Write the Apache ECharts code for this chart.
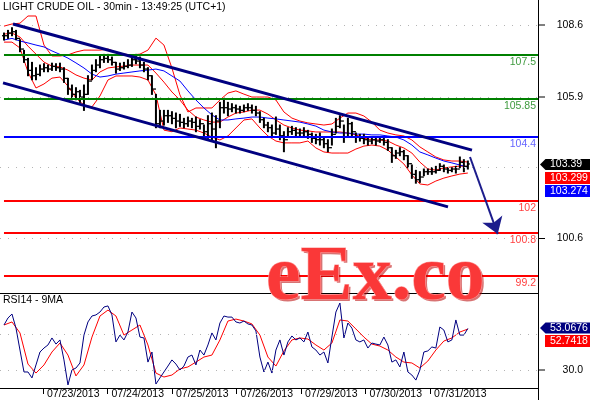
<!DOCTYPE html>
<html>
<head>
<meta charset="utf-8">
<title>Light Crude Oil 30min</title>
<script src="https://cdn.jsdelivr.net/npm/echarts@6/dist/echarts.min.js"></script>
<style>
  html, body { margin: 0; padding: 0; background: #fff; }
  #chart { width: 590px; height: 400px; }
</style>
</head>
<body>
<div id="chart"></div>
<script>
// x is measured in trading days from 07/23 00:00 (weekend skipped)
const barStart = -0.605
const barStep = 0.062

const priceHigh = [
  108.3, 108.4, 108.5, 108.4, 108.05, 107.65, 107.35, 107.2, 107.0, 107.1,
  107.15, 107.1, 107.17, 107.15, 107.17, 107.0, 106.6, 106.35, 106.25, 106.15,
  106.35, 106.7, 107.1, 107.3, 107.45, 107.5, 107.5, 107.4, 107.2, 107.17,
  107.2, 107.3, 107.45, 107.5, 107.4, 107.2, 107.0, 106.7, 106.0, 105.4,
  105.4, 105.4, 105.35, 105.3, 105.25, 105.1, 105.15, 105.1, 105.15, 105.05,
  104.85, 105.2, 105.3, 105.2, 105.7, 105.8, 105.7, 105.65, 105.6, 105.55,
  105.6, 105.65, 105.6, 105.55, 105.35, 105.1, 104.95, 104.85, 105.15, 104.85,
  104.6, 104.75, 104.8, 104.75, 104.7, 104.75, 104.65, 104.55, 104.5, 104.55,
  104.35, 104.3, 104.7, 105.1, 105.2, 104.85, 105.1, 104.95, 104.55, 104.5,
  104.5, 104.35, 104.4, 104.35, 104.4, 104.35, 104.3, 104.0, 103.9, 104.0,
  103.9, 103.7, 103.35, 103.15, 103.1, 103.2, 103.2, 103.25, 103.3, 103.4,
  103.35, 103.25, 103.25, 103.3, 103.65, 103.55, 103.5
]
const priceLow = [
  108.04, 108.1, 108.2, 108.05, 107.6, 107.2, 106.7, 106.55, 106.55, 106.7,
  106.85, 106.85, 106.9, 106.9, 106.85, 106.45, 106.0, 105.8, 105.8, 105.7,
  105.4, 106.0, 106.55, 106.85, 107.0, 107.2, 107.2, 107.1, 106.8, 106.9,
  106.95, 107.0, 107.05, 107.15, 107.0, 106.85, 106.55, 106.0, 104.75, 104.75,
  104.85, 104.95, 104.9, 104.75, 104.8, 104.75, 104.8, 104.75, 104.6, 104.7,
  104.4, 104.35, 104.3, 104.0, 104.75, 105.3, 105.2, 105.35, 105.3, 105.3,
  105.35, 105.4, 105.3, 105.2, 104.95, 104.75, 104.6, 104.4, 104.5, 104.3,
  103.85, 104.4, 104.5, 104.4, 104.4, 104.45, 104.35, 104.2, 104.15, 104.1,
  104.0, 103.85, 104.1, 104.55, 104.75, 104.2, 104.4, 104.4, 104.2, 104.25,
  104.15, 104.1, 104.15, 104.1, 104.2, 104.1, 103.9, 103.45, 103.6, 103.7,
  103.55, 103.25, 102.85, 102.67, 102.7, 102.95, 103.0, 103.0, 103.05, 103.15,
  103.1, 103.05, 103.1, 103.05, 103.25, 103.1, 103.2
]
const priceClose = [
  108.2, 108.3, 108.35, 108.1, 107.7, 107.3, 106.9, 106.7, 106.75, 106.95,
  107.0, 106.95, 107.05, 107.0, 106.95, 106.6, 106.2, 106.0, 106.1, 105.9,
  106.0, 106.5, 106.9, 107.1, 107.3, 107.35, 107.3, 107.2, 106.95, 107.0,
  107.05, 107.1, 107.3, 107.25, 107.1, 106.95, 106.7, 106.2, 104.9, 105.0,
  105.2, 105.2, 105.1, 105.0, 104.95, 104.9, 105.0, 104.95, 104.8, 104.9,
  104.6, 104.9, 104.7, 105.0, 105.5, 105.5, 105.45, 105.5, 105.45, 105.4,
  105.5, 105.5, 105.4, 105.3, 105.05, 104.85, 104.75, 104.55, 104.7, 104.45,
  104.3, 104.6, 104.65, 104.55, 104.55, 104.6, 104.5, 104.35, 104.3, 104.3,
  104.15, 104.0, 104.5, 104.8, 105.0, 104.4, 104.9, 104.6, 104.4, 104.35,
  104.3, 104.25, 104.3, 104.25, 104.3, 104.2, 104.0, 103.7, 103.8, 103.85,
  103.7, 103.4, 103.0, 102.8, 102.9, 103.1, 103.1, 103.1, 103.15, 103.3,
  103.2, 103.15, 103.2, 103.2, 103.45, 103.3, 103.39
]

// indicators, one value every second bar
const bandUpper = [
  108.56, 108.64, 108.67, 108.94, 108.94, 107.85, 107.44, 107.44, 107.48, 107.59,
  107.66, 107.66, 107.66, 107.7, 107.59, 107.51, 107.48, 107.51, 107.66, 108.11,
  107.85, 106.99, 105.98, 105.34, 105.49, 105.49, 105.49, 105.79, 106.05, 106.13,
  106.01, 105.9, 105.9, 105.9, 105.79, 105.34, 105.11, 105.0, 104.93, 104.89,
  104.85, 104.89, 105.11, 105.3, 105.3, 105.19, 104.96, 104.66, 104.55, 104.48,
  104.44, 104.29, 104.03, 103.84, 103.65, 103.54, 103.5, 103.5, 103.46
]
const bandMiddle = [
  108.26, 108.3, 108.15, 107.81, 107.51, 107.21, 107.06, 107.03, 106.91, 106.73,
  106.61, 106.54, 106.84, 106.99, 107.03, 107.06, 107.1, 107.1, 107.1, 106.8,
  106.46, 106.09, 105.79, 105.41, 105.15, 105.04, 104.96, 104.96, 105.15, 105.3,
  105.34, 105.41, 105.41, 105.26, 105.04, 104.85, 104.74, 104.66, 104.63, 104.59,
  104.59, 104.59, 104.59, 104.55, 104.48, 104.36, 104.29, 104.29, 104.25, 104.1,
  103.99, 103.8, 103.46, 103.2, 103.16, 103.24, 103.28, 103.31, 103.3
]
const bandLower = [
  107.96, 107.96, 107.74, 106.84, 106.24, 106.39, 106.61, 106.65, 106.31, 105.86,
  105.6, 105.53, 105.94, 106.54, 106.69, 106.69, 106.69, 106.65, 106.54, 105.98,
  104.66, 104.6, 104.74, 104.7, 104.66, 104.55, 104.4, 104.29, 104.44, 104.74,
  105.04, 105.08, 104.74, 104.44, 104.25, 104.18, 104.18, 104.18, 104.25, 103.99,
  103.84, 103.8, 103.8, 103.8, 103.95, 104.06, 104.1, 104.06, 103.91, 103.65,
  103.39, 102.98, 102.64, 102.6, 102.75, 102.86, 102.94, 103.01, 103.05
]
const maBlue = [
  108.04, 108.1, 108.0, 107.93, 107.85, 107.78, 107.63, 107.5, 107.36, 107.18,
  106.99, 106.76, 106.65, 106.69, 106.76, 106.8, 106.84, 106.88, 106.91, 106.95,
  106.88, 106.69, 106.5, 106.13, 105.79, 105.49, 105.23, 105.04, 105.04, 105.08,
  105.11, 105.15, 105.15, 105.11, 105.08, 105.04, 105.0, 104.96, 104.89, 104.81,
  104.66, 104.59, 104.55, 104.55, 104.51, 104.51, 104.48, 104.48, 104.44, 104.4,
  104.29, 104.1, 103.84, 103.73, 103.61, 103.5, 103.43, 103.35, 103.27
]

// RSI14 every bar, its 9MA every second bar
const rsi = [
  55.0, 58.9, 61.1, 53.3, 41.1, 28.9, 28.9, 25.6, 32.8, 40.0,
  42.2, 43.9, 47.8, 44.4, 46.7, 35.6, 21.7, 30.0, 31.1, 33.9,
  49.4, 56.7, 60.0, 60.6, 62.2, 65.0, 65.6, 60.6, 45.6, 49.4,
  46.7, 51.1, 62.2, 58.9, 48.3, 47.8, 34.4, 40.0, 22.2, 25.6,
  28.9, 32.2, 35.6, 33.3, 30.0, 32.2, 37.2, 38.3, 32.8, 41.1,
  38.3, 43.9, 50.6, 46.7, 56.1, 60.0, 59.4, 59.4, 56.7, 56.1,
  57.2, 55.6, 55.0, 51.7, 37.2, 28.9, 34.4, 28.3, 41.1, 46.7,
  38.3, 45.6, 48.9, 46.7, 47.8, 45.6, 51.1, 42.8, 41.1, 38.3,
  40.0, 33.9, 48.3, 62.2, 67.2, 47.8, 56.1, 53.3, 46.7, 45.6,
  46.7, 42.2, 45.0, 44.4, 43.9, 48.3, 43.9, 34.4, 35.6, 31.7,
  40.0, 28.9, 27.2, 24.4, 30.0, 40.0, 40.6, 42.8, 42.2, 53.9,
  52.2, 45.6, 46.7, 57.8, 49.4, 49.4, 53.07
]
const rsiMa = [
  55.0, 56.7, 50.6, 33.3, 28.3, 32.8, 40.0, 45.0, 38.3, 26.7,
  32.8, 48.3, 60.0, 63.3, 60.0, 49.4, 52.2, 55.0, 43.9, 28.3,
  26.1, 27.2, 30.6, 31.7, 34.4, 37.2, 38.3, 46.7, 57.2, 58.3,
  57.2, 55.6, 49.4, 37.2, 32.2, 40.6, 46.7, 47.8, 47.2, 43.9,
  41.1, 45.0, 57.8, 57.2, 52.8, 48.3, 44.4, 43.3, 41.1, 37.2,
  34.4, 33.9, 31.1, 35.0, 41.1, 46.1, 47.8, 51.1, 52.74
]

const levels = [107.5, 105.85, 104.4, 102, 100.8, 99.2]
const levelColors = ['#008000', '#008000', '#0000ff', '#ff0000', '#ff0000', '#ff0000']
const levelTextColors = ['#3f9a3f', '#3f9a3f', '#6464ff', '#ff4040', '#ff4040', '#ff4040']

const channelUpper = [[-0.465, 108.64], [6.651, 103.91]]
const channelLower = [[-0.62, 106.43], [6.279, 101.78]]
const targetArrow = [[6.62, 103.65], [7.05, 100.76]]

const dayTicks = [0, 1, 2, 3, 4, 5, 6]
const dateLabels = ['07/23/2013', '07/24/2013', '07/25/2013', '07/26/2013', '07/29/2013', '07/30/2013', '07/31/2013']
const priceTicks = [108.6, 105.9, 100.6]
const priceGrid = [108.6, 105.9, 103.25, 100.6]
const rsiTicks = [30]
const rsiGrid = [30, 50]
const priceTags = ['103.39', '103.299', '103.274']
const rsiTags = ['53.0676', '52.7418']

const xMin = -0.6667
const xMax = 7.6744
const font = '"Liberation Sans", Arial, sans-serif'

function series2(arr) {
  return arr.map((v, i) => [barStart + i * 2 * barStep, v])
}

const bars = priceHigh.map((h, i) => [barStart + i * barStep, priceLow[i], h, priceClose[i], i ? priceClose[i - 1] : priceClose[i]])

function lineSeries(data, color, width, x, y, z) {
  return {
    type: 'line', data: data, xAxisIndex: x, yAxisIndex: y, z: z || 3,
    showSymbol: false, silent: true, animation: false,
    lineStyle: { color: color, width: width }
  }
}

// dotted horizontal grid lines across the whole panel
function gridLines(values, y) {
  return {
    type: 'line', data: [], xAxisIndex: y, yAxisIndex: y, z: 1, silent: true,
    markLine: {
      silent: true, symbol: 'none', animation: false, label: { show: false },
      lineStyle: { color: '#b4b4b4', type: [1, 7], width: 1 },
      data: values.map(v => [{ coord: [xMin, v] }, { coord: [xMax, v] }])
    }
  }
}

function tagGroup(y, color, text, arrow) {
  const shape = arrow
    ? { type: 'polygon', shape: { points: [[540, y], [545.5, y - 5.5], [590, y - 5.5], [590, y + 5.5], [545.5, y + 5.5]] } }
    : { type: 'rect', shape: { x: 545, y: y - 6, width: 45, height: 12 } }
  shape.style = { fill: color }
  return {
    type: 'group', z: 50, children: [
      shape,
      { type: 'text', style: { x: 550, y: y, text: text, fill: '#fff', font: '10.5px ' + font, textVerticalAlign: 'middle' } }
    ]
  }
}

function axisLabelStyle(ticks) {
  return { customValues: ticks, align: 'right', margin: 45, color: '#000', fontFamily: font, fontSize: 10.5, formatter: function (v) { return v.toFixed(1) } }
}

const chart = echarts.init(document.getElementById('chart'))
chart.setOption({
  animation: false,
  backgroundColor: '#ffffff',
  grid: [
    { left: 0, right: 52, top: 0, height: 293 },
    { left: 0, right: 52, top: 293, height: 95 }
  ],
  xAxis: [
    { type: 'value', gridIndex: 0, min: xMin, max: xMax, show: false },
    {
      type: 'value', gridIndex: 1, min: xMin, max: xMax,
      axisLine: { lineStyle: { color: '#000', width: 1 } },
      axisTick: { customValues: dayTicks, length: 6, lineStyle: { color: '#000' } },
      axisLabel: {
        customValues: dayTicks, align: 'left', margin: 1, padding: [0, 0, 0, 4],
        color: '#000', fontFamily: font, fontSize: 10.5,
        formatter: function (v) { return dateLabels[dayTicks.indexOf(Math.round(v))] || '' }
      },
      splitLine: { show: false }
    }
  ],
  yAxis: [
    {
      type: 'value', gridIndex: 0, position: 'right', min: 98.55, max: 109.54,
      axisLine: { show: false },
      axisTick: { show: false },
      axisLabel: axisLabelStyle(priceTicks),
      splitLine: { show: false }
    },
    {
      type: 'value', gridIndex: 1, position: 'right', min: 20, max: 72.78,
      axisLine: { show: false },
      axisTick: { show: false },
      axisLabel: axisLabelStyle(rsiTicks),
      splitLine: { show: false }
    }
  ],
  series: [
    gridLines(priceGrid, 0),
    gridLines(rsiGrid, 1),
    {
      type: 'line', data: [], xAxisIndex: 0, yAxisIndex: 0, z: 2, silent: true,
      markLine: {
        silent: true, symbol: 'none', animation: false,
        data: levels.map((v, i) => [
          {
            coord: [barStart, v],
            lineStyle: { color: levelColors[i], width: 2, type: 'solid' },
            label: { show: true, position: 'insideEndBottom', distance: [2, 2], formatter: String(v), color: levelTextColors[i], fontFamily: font, fontSize: 10.5 }
          },
          { coord: [xMax, v] }
        ])
      }
    },
    lineSeries(series2(bandUpper), '#ff0000', 1, 0, 0),
    lineSeries(series2(bandLower), '#ff0000', 1, 0, 0),
    lineSeries(series2(bandMiddle), '#ff0000', 1, 0, 0),
    lineSeries(series2(maBlue), '#0000ff', 1, 0, 0),
    {
      type: 'custom', data: bars, xAxisIndex: 0, yAxisIndex: 0, z: 4, silent: true,
      encode: { x: 0, y: [1, 2] },
      renderItem: function (params, api) {
        const x = api.value(0)
        const lo = api.coord([x, api.value(1)])
        const hi = api.coord([x, api.value(2)])
        const cl = api.coord([x, api.value(3)])
        const op = api.coord([x, api.value(4)])
        const tick = { stroke: '#000', lineWidth: 1.3 }
        return {
          type: 'group', children: [
            { type: 'line', shape: { x1: lo[0], y1: lo[1] + 0.5, x2: hi[0], y2: hi[1] - 0.5 }, style: { stroke: '#000', lineWidth: 2 } },
            { type: 'line', shape: { x1: op[0] - 2, y1: op[1], x2: op[0], y2: op[1] }, style: tick },
            { type: 'line', shape: { x1: cl[0], y1: cl[1], x2: cl[0] + 2, y2: cl[1] }, style: tick }
          ]
        }
      }
    },
    lineSeries(channelUpper, '#000080', 3, 0, 0, 5),
    lineSeries(channelLower, '#000080', 3, 0, 0, 5),
    {
      type: 'line', data: [], xAxisIndex: 0, yAxisIndex: 0, z: 5, silent: true,
      markLine: {
        silent: true, animation: false, symbol: ['none', 'arrow'], symbolSize: 16,
        lineStyle: { color: '#1c1c8c', width: 2, type: 'solid' },
        label: { show: false },
        data: [[{ coord: targetArrow[0] }, { coord: targetArrow[1] }]]
      }
    },
    lineSeries(series2(rsiMa), '#ff0000', 1, 1, 1),
    lineSeries(rsi.map((v, i) => [barStart + i * barStep, v]), '#000080', 1, 1, 1, 4)
  ],
  graphic: [
    { type: 'text', z: 40, style: { x: 3, y: 7, text: 'LIGHT CRUDE OIL - 30min - 13:49:25 (UTC+1)', fill: '#000', font: '10.5px ' + font, textVerticalAlign: 'middle' } },
    { type: 'text', z: 40, style: { x: 3, y: 300, text: 'RSI14 - 9MA', fill: '#000', font: '10.5px ' + font, textVerticalAlign: 'middle' } },
    { type: 'line', z: 40, shape: { x1: 0, y1: 293.5, x2: 538, y2: 293.5 }, style: { stroke: '#000', lineWidth: 1 } },
    { type: 'line', z: 40, shape: { x1: 538.5, y1: 0, x2: 538.5, y2: 400 }, style: { stroke: '#000', lineWidth: 1 } },
    // small ticks next to the right-hand labels
    { type: 'line', z: 40, shape: { x1: 539, y1: 25, x2: 545, y2: 25 }, style: { stroke: '#000', lineWidth: 1 } },
    { type: 'line', z: 40, shape: { x1: 539, y1: 97, x2: 545, y2: 97 }, style: { stroke: '#000', lineWidth: 1 } },
    { type: 'line', z: 40, shape: { x1: 539, y1: 238.5, x2: 545, y2: 238.5 }, style: { stroke: '#000', lineWidth: 1 } },
    { type: 'line', z: 40, shape: { x1: 539, y1: 370, x2: 545, y2: 370 }, style: { stroke: '#000', lineWidth: 1 } },
    tagGroup(164.5, '#000000', priceTags[0], true),
    tagGroup(178, '#ff0000', priceTags[1], false),
    tagGroup(191, '#0000ff', priceTags[2], false),
    tagGroup(328, '#000080', rsiTags[0], true),
    tagGroup(341, '#ff0000', rsiTags[1], false),
    {
      type: 'text', z: 59,
      style: {
        x: 268, y: 281, text: 'eEx.co', font: 'bold 78px "Liberation Serif", serif', textVerticalAlign: 'middle',
        fill: '#b80000', opacity: 0.55
      }
    },
    {
      type: 'text', z: 60,
      style: {
        x: 266, y: 279, text: 'eEx.co', font: 'bold 78px "Liberation Serif", serif', textVerticalAlign: 'middle',
        fill: '#fa3838', stroke: '#ff9a9a', lineWidth: 1.2
      }
    }
  ]
})
</script>
</body>
</html>
